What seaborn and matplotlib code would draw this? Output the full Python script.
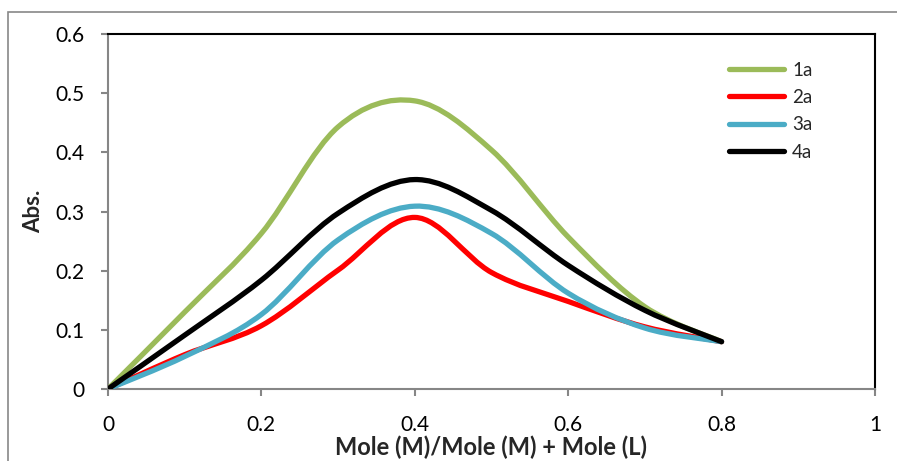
import numpy as np
import pandas as pd
import seaborn as sns
import matplotlib.pyplot as plt
from matplotlib.path import Path
from matplotlib.patches import PathPatch, Rectangle
from matplotlib.lines import Line2D

# values
mole_frac = [0, 0.1, 0.2, 0.3, 0.4, 0.5, 0.6, 0.7, 0.8]
abs_1a = [0, 0.130, 0.263, 0.443, 0.487, 0.404, 0.257, 0.139, 0.08]
abs_2a = [0, 0.058, 0.107, 0.201, 0.290, 0.197, 0.148, 0.105, 0.08]
abs_3a = [0, 0.055, 0.126, 0.252, 0.309, 0.263, 0.162, 0.103, 0.08]
abs_4a = [0, 0.091, 0.184, 0.297, 0.354, 0.302, 0.209, 0.133, 0.08]
series_names = ["1a", "2a", "3a", "4a"]
colors = ["#9BBB59", "#FF0000", "#4BACC6", "#000000"]
x_ticks = [0, 0.2, 0.4, 0.6, 0.8, 1]
x_ticklabels = ["0", "0.2", "0.4", "0.6", "0.8", "1"]
y_ticks = [0, 0.1, 0.2, 0.3, 0.4, 0.5, 0.6]
y_ticklabels = ["0", "0.1", "0.2", "0.3", "0.4", "0.5", "0.6"]

df = pd.DataFrame({"x": mole_frac, "1a": abs_1a, "2a": abs_2a, "3a": abs_3a, "4a": abs_4a})


def smooth_path(x, y):
    # excel-style smoothed line: cubic bezier between the points
    p = np.column_stack([x, y]).astype(float)
    pe = np.vstack([p[0], p, p[-1]])
    verts = [p[0]]
    codes = [Path.MOVETO]
    for i in range(len(p) - 1):
        p0, p1, p2, p3 = pe[i], pe[i + 1], pe[i + 2], pe[i + 3]
        verts += [p1 + (p2 - p0) / 6, p2 - (p3 - p1) / 6, p2]
        codes += [Path.CURVE4] * 3
    return Path(verts, codes)


sns.set_style("white")
plt.rcParams["font.family"] = ["Lato", "DejaVu Sans"]

fig = plt.figure(figsize=(8.97, 4.61), dpi=100)
ax = fig.add_axes([0.1204, 0.1562, 0.855, 0.770])

handles = []
for name, c in zip(series_names, colors):
    patch = PathPatch(smooth_path(df["x"], df[name]), facecolor="none", edgecolor=c,
                      lw=3.8, capstyle="round", joinstyle="round", zorder=3)
    ax.add_patch(patch)
    handles.append(Line2D([], [], color=c, lw=3.8, solid_capstyle="round"))

ax.set_xlim(0, 1)
ax.set_ylim(0, 0.6)
ax.set_xticks(x_ticks)
ax.set_xticklabels(x_ticklabels)
ax.set_yticks(y_ticks)
ax.set_yticklabels(y_ticklabels)
ax.tick_params(axis="both", direction="out", length=5, width=1.5, color="#868686",
               labelsize=15, labelcolor="black", left=True, bottom=True)
ax.tick_params(axis="x", pad=14)
ax.tick_params(axis="y", pad=12)

for side in ["left", "bottom"]:
    ax.spines[side].set_color("#868686")
    ax.spines[side].set_linewidth(1.5)
for side in ["top", "right"]:
    ax.spines[side].set_color("black")
    ax.spines[side].set_linewidth(1.5)

ax.set_xlabel("Mole (M)/Mole (M) + Mole (L)", fontsize=17, fontweight="bold", labelpad=0)
ax.set_ylabel("Abs.", fontsize=16, fontweight="bold", labelpad=8)

ax.legend(handles, series_names, loc="upper left", bbox_to_anchor=(0.81, 0.922),
          frameon=False, fontsize=13.5, handlelength=2.9, handletextpad=0.45,
          labelspacing=0.55, borderpad=0, borderaxespad=0)

# outer chart border
fig.patches.append(Rectangle((8 / 897, -0.2), 1.5, 1.2 - 12 / 461, transform=fig.transFigure,
                             fill=False, edgecolor="#888888", lw=1.2, zorder=0))

fig.savefig("out.png", dpi=100)
